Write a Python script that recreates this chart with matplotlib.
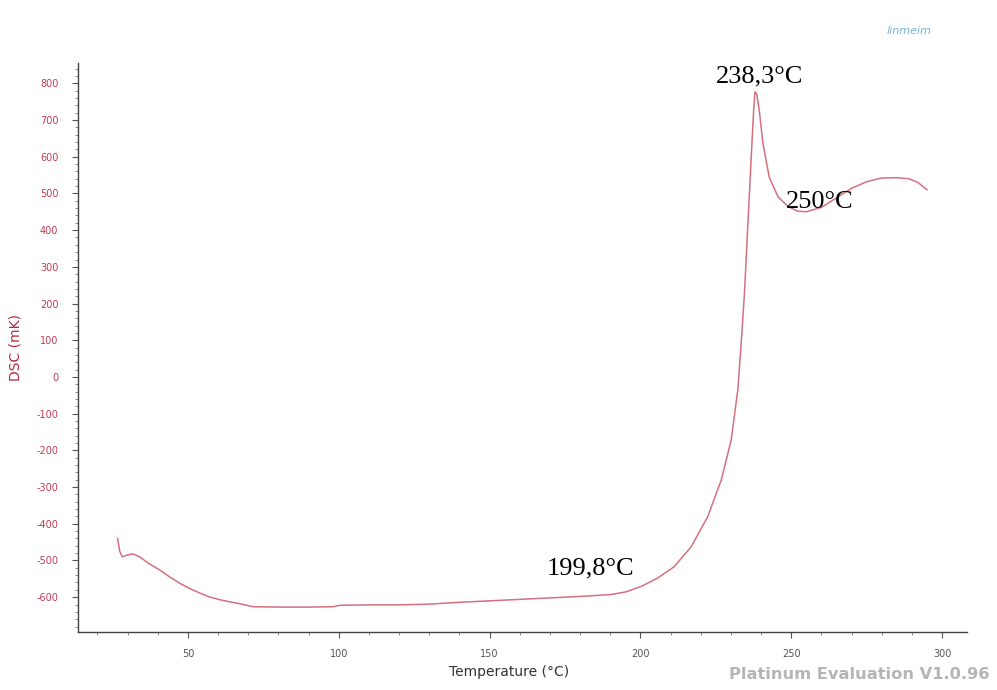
import numpy as np
import matplotlib
matplotlib.use('Agg')
import matplotlib.pyplot as plt
from matplotlib.ticker import MultipleLocator

plt.rcParams['axes.unicode_minus'] = False

# DSC curve (temperature in °C, signal in mK)
temp = [26.7, 27.4, 28.3, 30.0, 31.7, 34.0, 37.0, 40.7, 44.0, 47.3, 50.5, 54.0, 57.0,
        60.6, 64.0, 67.3, 71.6, 80.0, 90.0, 98.0, 100.5, 110.0, 120.0, 130.0,
        140.0, 150.0, 160.0, 170.0, 180.0, 190.0, 195.0, 200.2, 205.7, 211.2,
        216.8, 222.3, 226.8, 230.1, 232.3, 233.4, 234.5, 235.6, 236.7, 237.5,
        238.0, 238.6, 239.5, 240.6, 242.7, 245.6, 248.9, 252.0, 255.0, 260.0,
        265.0, 270.0, 275.0, 280.0, 285.0, 289.0, 292.0, 295.0]
dsc = [-440, -475, -490, -485, -482, -490, -508, -526, -545, -562, -576, -589, -599,
       -607, -613, -618, -626, -627, -627, -626, -622, -621, -621, -619,
       -614, -610, -606, -602, -598, -593, -586, -571, -548, -517,
       -463, -381, -281, -172, -35, 90, 228, 410, 591, 720,
       777, 770, 720, 638, 545, 491, 465, 452, 450, 462,
       488, 514, 532, 542, 543, 540, 530, 510]

notes = ['238,3°C', '250°C', '199,8°C']
note_xy = [(239.5, 802), (259.5, 461), (183.5, -538)]

fig = plt.figure(figsize=(9.97, 6.9), dpi=100)
ax = fig.add_axes([0.078, 0.084, 0.892, 0.825])

ax.plot(temp, dsc, color='#d4707f', lw=1.1)

ax.set_xlim(13.5, 308.3)
ax.set_ylim(-695, 856)
ax.xaxis.set_major_locator(MultipleLocator(50))
ax.xaxis.set_minor_locator(MultipleLocator(10))
ax.yaxis.set_major_locator(MultipleLocator(100))
ax.yaxis.set_minor_locator(MultipleLocator(20))

for s in ['top', 'right']:
    ax.spines[s].set_visible(False)
for s in ['left', 'bottom']:
    ax.spines[s].set_color('#444444')
    ax.spines[s].set_linewidth(1.0)

ax.tick_params(axis='both', which='major', length=4, width=0.8, color='#555555', labelsize=7)
ax.tick_params(axis='both', which='minor', length=2, width=0.6, color='#777777')
ax.tick_params(axis='x', labelcolor='#555555', pad=8)
ax.tick_params(axis='y', labelcolor='#c23a55', pad=10)
ax.set_xticks([50, 100, 150, 200, 250, 300])
ax.set_yticks(np.arange(-600, 801, 100))

ax.set_xlabel('Temperature (°C)', fontsize=10, color='#333333', labelpad=6)
ax.xaxis.set_label_coords(0.485, -0.058)
ax.set_ylabel('DSC (mK)', fontsize=10, color='#b8283f', labelpad=10)

for t, (x, y) in zip(notes, note_xy):
    ax.text(x, y, t, fontsize=19, family='Liberation Serif', color='black',
            ha='center', va='baseline')

fig.text(0.912, 0.955, 'linmeim', fontsize=8, style='italic', color='#7ab0d8',
         ha='center', va='center')
fig.text(0.993, 0.012, 'Platinum Evaluation V1.0.96', fontsize=11.7, weight='bold',
         color='#b5b5b5', ha='right', va='bottom')

fig.savefig('out.png', dpi=100)
